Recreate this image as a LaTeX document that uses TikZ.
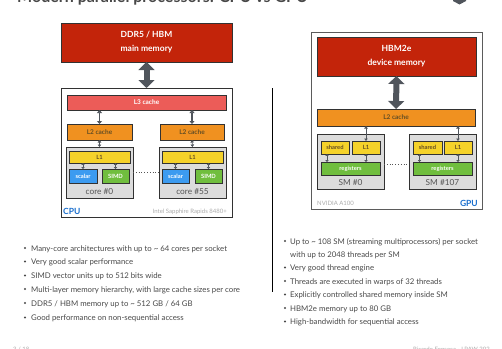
\documentclass[tikz,border=0pt]{standalone}
\usepackage{fontspec}
\setmainfont{Lato}
\usepackage{tikz}
\usetikzlibrary{arrows.meta, positioning, calc}
\definecolor{memred}{RGB}{195, 36, 10}
\definecolor{lthreered}{RGB}{236, 92, 88}
\definecolor{ltwoorange}{RGB}{240, 145, 32}
\definecolor{lonegold}{RGB}{245, 210, 42}
\definecolor{scalarblue}{RGB}{60, 155, 240}
\definecolor{simdgreen}{RGB}{112, 190, 62}
\definecolor{coregray}{RGB}{220, 220, 220}
\definecolor{boxline}{RGB}{50, 50, 50}
\definecolor{arrowgray}{RGB}{80, 85, 92}
\definecolor{labeldark}{RGB}{100, 78, 36}
\definecolor{textgray}{RGB}{85, 85, 85}
\definecolor{notegray}{RGB}{72, 72, 72}
\definecolor{faintgray}{RGB}{170, 170, 170}
\definecolor{tagblue}{RGB}{25, 110, 205}

\begin{document}
\begin{tikzpicture}[x=1pt, y=-1pt,
  box/.style={draw=boxline, line width=0.7pt, inner sep=0pt, outer sep=0pt, anchor=north west},
  memtext/.style={text=white, font=\fontsize{8.5}{14}\selectfont\bfseries, align=center},
  cachetext/.style={font=\fontsize{6.5}{7}\selectfont\bfseries},
  unittext/.style={text=white, font=\fontsize{5.8}{6}\selectfont\bfseries},
  corelabel/.style={text=textgray, font=\fontsize{8.3}{9}\selectfont, inner sep=0pt},
  bigarrow/.style={draw=arrowgray, line width=6pt,
    {Triangle[length=8pt, width=16pt]}-{Triangle[length=8pt, width=16pt]}},
  midarrow/.style={draw=arrowgray, line width=1.4pt,
    {Triangle[length=3pt, width=5pt]}-{Triangle[length=3pt, width=5pt]}},
  thinarrow/.style={draw=arrowgray, line width=0.7pt,
    {Triangle[length=2.5pt, width=3.5pt]}-{Triangle[length=2.5pt, width=3.5pt]}},
  tinyarrow/.style={draw=arrowgray, line width=0.6pt,
    {Triangle[length=1.8pt, width=3pt]}-{Triangle[length=1.8pt, width=3pt]}},
  item/.style={anchor=west, inner sep=0pt, text=notegray, text height=1.5ex, text depth=0.3ex,
    font=\fontsize{7.8}{8}\selectfont},
  dot/.style={circle, fill=notegray, inner sep=0pt, minimum size=2.2pt}]
  \useasboundingbox (0,0) rectangle (502,348);
  \clip (0,0) rectangle (502,348);

  % Slide title and logo
  \node[anchor=base west, inner sep=0pt, text=textgray!85!black,
    font=\fontsize{16}{16}\selectfont\bfseries] (title) at (17,2)
    {Modern parallel processors: CPU vs GPU};
  \fill[arrowgray] (453,-5) -- (466,-5) -- (466,1) -- (459.5,4.5) -- (453,1) -- cycle;

  % CPU side
  \node[box, fill=memred, minimum width=171pt, minimum height=39pt, memtext] (mem) at (61,23)
    {DDR5 / HBM\\main memory};
  \node[box, line width=0.8pt, minimum width=171pt, minimum height=129pt] (cpu) at (61,88) {};
  \node[box, fill=lthreered, minimum width=159pt, minimum height=15pt, cachetext, text=white]
    (l3) at (67,95) {L3 cache};
  \node[box, fill=ltwoorange, minimum width=65pt, minimum height=16pt, cachetext, text=labeldark]
    (l2a) at (67,124) {L2 cache};
  \node[box, fill=ltwoorange, minimum width=64pt, minimum height=16pt, cachetext, text=labeldark]
    (l2b) at (160,124) {L2 cache};

  \node[box, fill=coregray, minimum width=67pt, minimum height=51pt] (corea) at (66,147) {};
  \node[box, fill=coregray, minimum width=67pt, minimum height=51pt] (coreb) at (159,147) {};
  \node[box, fill=lonegold, minimum width=61pt, minimum height=12pt, unittext, text=labeldark]
    (l1a) at (69,151) {L1};
  \node[box, fill=lonegold, minimum width=61pt, minimum height=12pt, unittext, text=labeldark]
    (l1b) at (162,151) {L1};
  \node[box, fill=scalarblue, minimum width=28pt, minimum height=14pt, unittext]
    (scalara) at (69,169) {scalar};
  \node[box, fill=simdgreen, minimum width=27pt, minimum height=14pt, unittext]
    (simda) at (102,169) {SIMD};
  \node[box, fill=scalarblue, minimum width=27pt, minimum height=14pt, unittext]
    (scalarb) at (162,169) {scalar};
  \node[box, fill=simdgreen, minimum width=27pt, minimum height=14pt, unittext]
    (simdb) at (195,169) {SIMD};
  \node[corelabel, above=3pt of corea.south] (corealbl) {core \#0};
  \node[corelabel, above=3pt of coreb.south] (coreblbl) {core \#55};

  \node[anchor=base west, inner sep=0pt, text=tagblue, font=\fontsize{8.5}{9}\selectfont\bfseries]
    (cputag) at (63,214) {CPU};
  \node[anchor=base east, inner sep=0pt, text=faintgray, font=\fontsize{6}{7}\selectfont]
    (cpuname) at (227,213.5) {Intel Sapphire Rapids 8480+};

  \draw[bigarrow] (mem.south) -- (cpu.north);
  \foreach \c in {a,b} {
    \draw[midarrow] (l2\c.north |- l3.south) -- (l2\c.north);
    \draw[thinarrow] (l2\c.south) -- (core\c.north);
    \draw[tinyarrow] (scalar\c.north |- l1\c.south) -- (scalar\c.north);
    \draw[tinyarrow] (simd\c.north |- l1\c.south) -- (simd\c.north);
  }
  \draw[dotted, thick, textgray] (corea.east) -- (coreb.west);

  % Separator
  \draw[line width=0.8pt] (272,88) -- (272,292);

  % GPU side
  \node[box, line width=0.8pt, draw=boxline!80, minimum width=171pt, minimum height=177pt]
    (gpu) at (311,32) {};
  \node[box, fill=memred, minimum width=159pt, minimum height=39pt, memtext] (hbm) at (317,37)
    {HBM2e\\device memory};
  \node[box, fill=ltwoorange, minimum width=158pt, minimum height=17pt, cachetext, text=labeldark]
    (gl2) at (317,109) {L2 cache};

  \node[box, fill=coregray, minimum width=67pt, minimum height=55pt] (sma) at (317,134) {};
  \node[box, fill=coregray, minimum width=67pt, minimum height=55pt] (smb) at (409,134) {};
  \node[box, fill=lonegold, minimum width=28pt, minimum height=13pt, unittext, text=labeldark]
    (gsha) at (321,141) {shared};
  \node[box, fill=lonegold, minimum width=28pt, minimum height=13pt, unittext, text=labeldark]
    (gl1a) at (352,141) {L1};
  \node[box, fill=simdgreen, minimum width=59pt, minimum height=13pt, unittext]
    (grega) at (321,162) {registers};
  \node[box, fill=lonegold, minimum width=29pt, minimum height=13pt, unittext, text=labeldark]
    (gshb) at (413,141) {shared};
  \node[box, fill=lonegold, minimum width=28pt, minimum height=13pt, unittext, text=labeldark]
    (gl1b) at (444,141) {L1};
  \node[box, fill=simdgreen, minimum width=59pt, minimum height=13pt, unittext]
    (gregb) at (413,162) {registers};
  \node[corelabel, above=3pt of sma.south] (smalbl) {SM \#0};
  \node[corelabel, above=3pt of smb.south] (smblbl) {SM \#107};

  \node[anchor=base west, inner sep=0pt, text=faintgray, font=\fontsize{6}{7}\selectfont]
    (gpuname) at (317,205.5) {NVIDIA A100};
  \node[anchor=base east, inner sep=0pt, text=tagblue, font=\fontsize{8.5}{9}\selectfont\bfseries]
    (gputag) at (478,206) {GPU};

  \draw[bigarrow] (hbm.south) -- (gl2.north);
  \foreach \c in {a,b} {
    \draw[thinarrow] (gl1\c.north |- gl2.south) -- (gl1\c.north);
    \draw[tinyarrow] ([xshift=-8pt]gsh\c.south) -- ([xshift=-8pt]gsh\c.south |- greg\c.north);
    \draw[tinyarrow] (gl1\c.south) -- (gl1\c.south |- greg\c.north);
  }
  \draw[dotted, thick, textgray] ([yshift=-2.5pt]sma.east) -- ([yshift=-2.5pt]smb.west);

  % CPU notes
  \foreach \y/\txt [count=\i] in {
      248/{Many-core architectures with up to \textasciitilde{} 64 cores per socket},
      261.5/{Very good scalar performance},
      275.5/{SIMD vector units up to 512 bits wide},
      289/{Multi-layer memory hierarchy, with large cache sizes per core},
      303/{DDR5 / HBM memory up to \textasciitilde{} 512 GB / 64 GB},
      317.5/{Good performance on non-sequential access}} {
    \node[dot] (ldot\i) at (25,\y) {};
    \node[item] (ltxt\i) at (31,\y) {\txt};
  }

  % GPU notes
  \node[dot] (rdot0) at (285,241) {};
  \node[item] (rtxt0) at (290,241) {Up to \textasciitilde{} 108 SM (streaming multiprocessors) per socket};
  \node[item] (rtxt00) at (290,254) {with up to 2048 threads per SM};
  \foreach \y/\txt [count=\i] in {
      267.5/{Very good thread engine},
      281/{Threads are executed in warps of 32 threads},
      294.5/{Explicitly controlled shared memory inside SM},
      308/{HBM2e memory up to 80 GB},
      321.5/{High-bandwidth for sequential access}} {
    \node[dot] (rdot\i) at (285,\y) {};
    \node[item] (rtxt\i) at (290,\y) {\txt};
  }

  % Footer
  \node[anchor=base west, inner sep=0pt, text=faintgray, font=\fontsize{6}{7}\selectfont]
    (pagenum) at (13,351) {3 / 18};
  \node[anchor=base west, inner sep=0pt, text=faintgray, font=\fontsize{6}{7}\selectfont]
    (footname) at (413,351) {Ricardo Fonseca - LPAW 202};
\end{tikzpicture}
\end{document}
